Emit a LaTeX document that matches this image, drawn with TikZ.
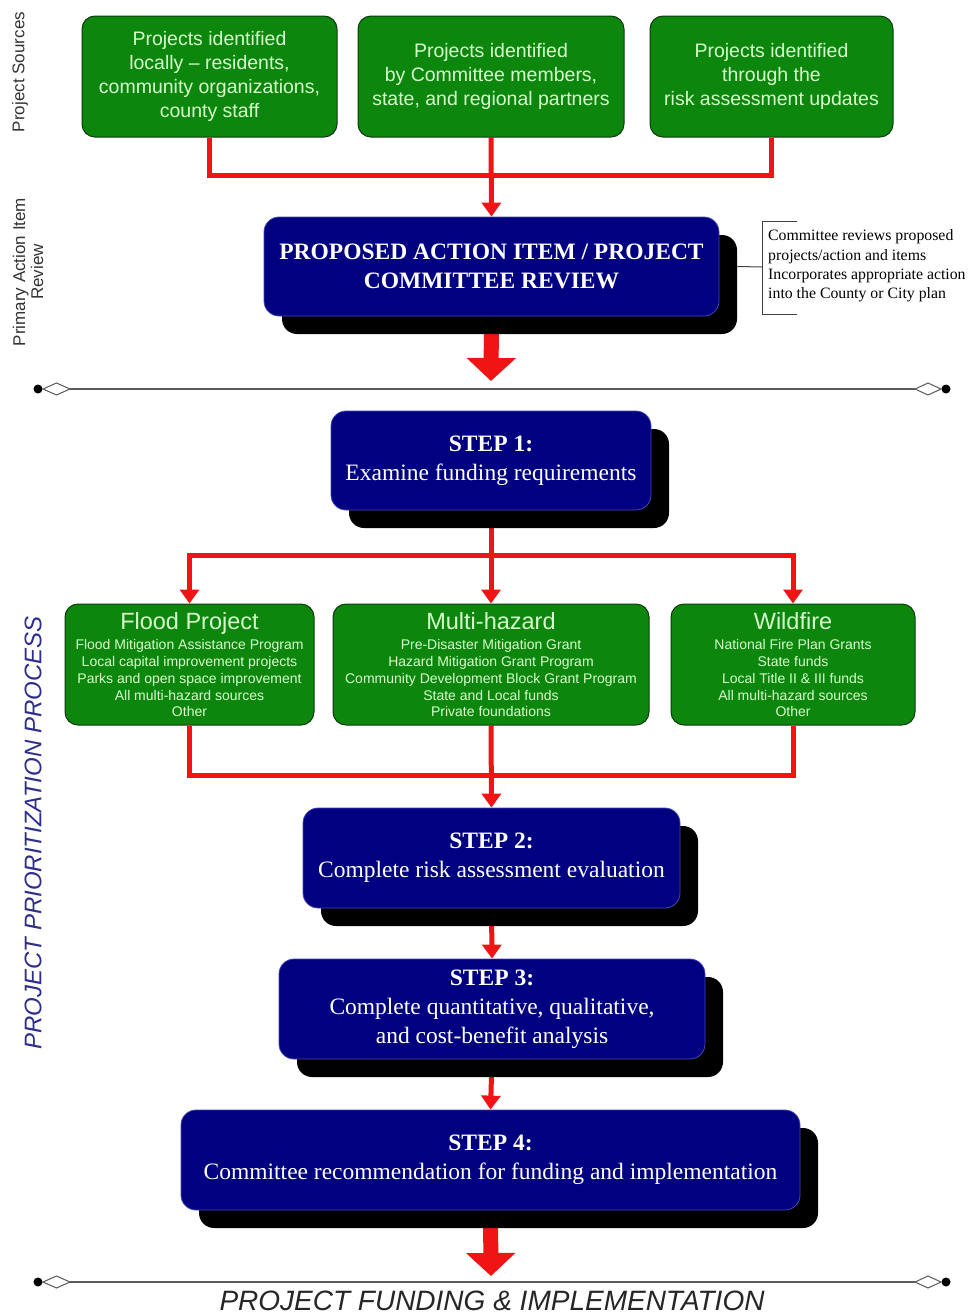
\documentclass[tikz,border=0pt]{standalone}
\usepackage{fontspec}
\setmainfont{Liberation Serif}
\setsansfont{Liberation Sans}
\usetikzlibrary{arrows.meta,shadows,backgrounds}
\definecolor{boxgreen}{RGB}{12,134,12}
\definecolor{greenedge}{RGB}{10,60,10}
\definecolor{lightgreen}{RGB}{215,255,205}
\definecolor{navy}{RGB}{0,0,128}
\definecolor{navyedge}{RGB}{70,70,180}
\definecolor{flowred}{RGB}{240,20,20}
\definecolor{sidenavy}{RGB}{45,45,140}
\definecolor{linegray}{RGB}{90,90,90}
\begin{document}
\begin{tikzpicture}[x=1pt,y=-1pt,
  greenbox/.style={draw=greenedge, line width=1pt, fill=boxgreen, rounded corners=13pt,
    text=lightgreen, align=center, inner sep=0pt},
  topgreen/.style={greenbox, font=\sffamily\fontsize{19.5}{24}\selectfont},
  midgreen/.style={greenbox, font=\sffamily\fontsize{14}{16.7}\selectfont},
  bluebox/.style={draw=navyedge, line width=0.8pt, fill=navy, rounded corners=15pt,
    text=white, align=center, inner sep=0pt,
    font=\fontsize{23.5}{29}\selectfont,
    drop shadow={shadow xshift=18pt, shadow yshift=-18pt, fill=black, opacity=1}},
  redline/.style={flowred, line width=5pt},
  redarrow/.style={flowred, line width=5pt, -{Triangle[width=19pt,length=14pt]}},
  bigarrow/.style={flowred, line width=15pt, -{Triangle[width=48pt,length=23pt]}},
  sidelab/.style={font=\sffamily\fontsize{17}{18}\selectfont, text=black!80, align=center},
  divider/.style={linegray, line width=1.2pt},
  bracketline/.style={black!75, line width=1pt}
]
\useasboundingbox (0,0) rectangle (971,1315);

% side labels
\node[sidelab, rotate=90] (lsrc) at (20,72) {Project Sources};
\node[sidelab, rotate=90] (lrev) at (28,272) {Primary Action Item\\Review};
\node[rotate=90, font=\sffamily\itshape\fontsize{24}{28}\selectfont, text=sidenavy] (lproc) at (33,833) {PROJECT PRIORITIZATION PROCESS};
\node[font=\sffamily\itshape\fontsize{28}{30}\selectfont, text=black!85] (lfund) at (492,1301) {PROJECT FUNDING \& IMPLEMENTATION};

% top sources
\node[topgreen, minimum width=255, minimum height=121] (s1) at (209.5,76.5)
  {Projects identified\\locally -- residents,\\community organizations,\\county staff};
\node[topgreen, minimum width=266, minimum height=121] (s2) at (491,76.5)
  {Projects identified\\by Committee members,\\state, and regional partners};
\node[topgreen, minimum width=243, minimum height=121] (s3) at (771.5,76.5)
  {Projects identified\\through the\\risk assessment updates};

% review
\node[bluebox, font=\bfseries\fontsize{23.5}{29}\selectfont, minimum width=455, minimum height=99] (review) at (491.5,266.5)
  {PROPOSED ACTION ITEM / PROJECT\\COMMITTEE REVIEW};
\node[anchor=west, align=left, inner sep=0pt, font=\fontsize{15.8}{19.3}\selectfont] (note) at (768,266)
  {Committee reviews proposed\\projects/action and items\\Incorporates appropriate action\\into the County or City plan};
\coordinate (brk) at (762,267);
\draw[bracketline] (797,221) -- (762,221) -- (762,314) -- (797,314);
\draw[bracketline] ([xshift=18pt]review.east) -- (brk);

% step 1
\node[bluebox, minimum width=320, minimum height=99] (step1) at (491,460.5)
  {\textbf{STEP 1:}\\Examine funding requirements};

% funding sources
\node[midgreen, minimum width=249, minimum height=121] (flood) at (189.5,664.5)
  {{\fontsize{23.5}{24}\selectfont Flood Project}\\[4pt]Flood Mitigation Assistance Program\\Local capital improvement projects\\Parks and open space improvement\\All multi-hazard sources\\Other};
\node[midgreen, minimum width=316, minimum height=121] (multi) at (491,664.5)
  {{\fontsize{23.5}{24}\selectfont Multi-hazard}\\[4pt]Pre-Disaster Mitigation Grant\\Hazard Mitigation Grant Program\\Community Development Block Grant Program\\State and Local funds\\Private foundations};
\node[midgreen, minimum width=244, minimum height=121] (wild) at (793,664.5)
  {{\fontsize{23.5}{24}\selectfont Wildfire}\\[4pt]National Fire Plan Grants\\State funds\\Local Title II \& III funds\\All multi-hazard sources\\Other};

% steps 2-4
\node[bluebox, minimum width=377, minimum height=100] (step2) at (491.5,858)
  {\textbf{STEP 2:}\\Complete risk assessment evaluation};
\node[bluebox, minimum width=426, minimum height=100] (step3) at (492,1009)
  {\textbf{STEP 3:}\\Complete quantitative, qualitative,\\and cost-benefit analysis};
\node[bluebox, minimum width=619, minimum height=100] (step4) at (490.5,1160)
  {\textbf{STEP 4:}\\Committee recommendation for funding and implementation};

% coordinates for junctions
\coordinate (j1) at (491,175);
\coordinate (j2) at (491,555);
\coordinate (j3) at (491,775);
\coordinate (a1) at (491,381);
\coordinate (a2) at (491,1276);

\begin{pgfonlayer}{background}
  \draw[redline] (s1.south) |- (j1);
  \draw[redline] (s3.south) |- (j1);
  \draw[redarrow] (s2.south) -- (review.north);
  \draw[bigarrow] (review.south) -- (a1);
  \draw[redline] (step1.south) -- (j2);
  \draw[redarrow] (j2) -| (flood.north);
  \draw[redarrow] (j2) -| (wild.north);
  \draw[redarrow] (j2) -- (multi.north);
  \draw[redline] (flood.south) |- (j3);
  \draw[redline] (wild.south) |- (j3);
  \draw[redarrow] (multi.south) -- (step2.north);
  \draw[redarrow] (step2.south) -- (step3.north);
  \draw[redarrow] (step3.south) -- (step4.north);
  \draw[bigarrow] (step4.south) -- (a2);
\end{pgfonlayer}

% dividers
\foreach \yy in {389,1282}{
  \draw[divider] (70,\yy) -- (915,\yy);
  \draw[linegray, line width=1pt, fill=white] (43,\yy) -- (56.5,\yy-6) -- (70,\yy) -- (56.5,\yy+6) -- cycle;
  \draw[linegray, line width=1pt, fill=white] (915,\yy) -- (928,\yy-6) -- (941,\yy) -- (928,\yy+6) -- cycle;
  \fill[black] (38,\yy) circle (4.5);
  \fill[black] (946,\yy) circle (4.5);
}
\end{tikzpicture}
\end{document}
